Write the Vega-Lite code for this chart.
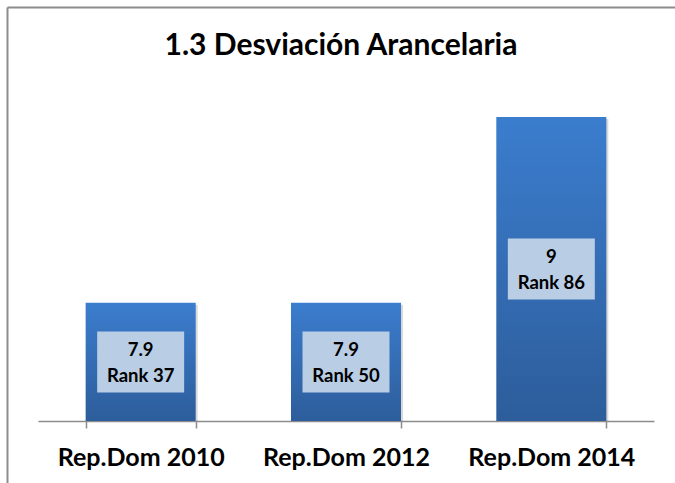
{
  "$schema": "https://vega.github.io/schema/vega-lite/v6.json",
  "width": 668,
  "height": 476,
  "autosize": {"type": "none"},
  "padding": {"left": 7, "top": 7, "right": 0, "bottom": 0},
  "background": "white",
  "config": {"view": {"stroke": null}, "font": "Lato"},
  "title": {"text": "1.3 Desviación Arancelaria", "fontSize": 30, "fontWeight": "bold", "font": "Lato", "color": "#000000", "anchor": "middle", "frame": "group", "offset": -57},
  "data": {"values": [
    {"label": "Rep.Dom 2010", "value": 7.9, "rank": "Rank 37"},
    {"label": "Rep.Dom 2012", "value": 7.9, "rank": "Rank 50"},
    {"label": "Rep.Dom 2014", "value": 9, "rank": "Rank 86"}
  ]},
  "layer": [
    {
      "mark": {"type": "point", "opacity": 0},
      "encoding": {
        "x": {"field": "label", "type": "nominal", "sort": null,
          "axis": {"orient": "top", "title": null, "ticks": false, "labels": false, "grid": false, "domainColor": "#8C8C8C", "domainWidth": 2}},
        "y": {"field": "value", "type": "quantitative", "scale": {"zero": false},
          "axis": {"orient": "left", "title": null, "ticks": false, "labels": false, "grid": false, "domainColor": "#8C8C8C", "domainWidth": 2}}
      }
    },
    {
      "encoding": {
        "x": {"field": "label", "type": "nominal", "sort": null,
          "scale": {"range": [31, 647], "paddingInner": 0.464, "paddingOuter": 0.232},
          "axis": {"title": null, "orient": "bottom", "offset": -62, "domainColor": "#8C8C8C", "domainWidth": 1.5, "tickColor": "#8C8C8C", "tickWidth": 1.5, "tickSize": 7, "tickBand": "extent", "labelFontSize": 25, "labelFontWeight": "bold", "labelColor": "#000000", "labelPadding": 17, "labelAngle": 0, "grid": false}},
        "y": {"field": "value", "type": "quantitative", "scale": {"domain": [6.8329, 9.6513], "zero": false, "nice": false}, "axis": null},
        "y2": {"datum": 7.2}
      },
      "layer": [
        {"mark": {"type": "bar", "fill": "#000000", "opacity": 0.15, "xOffset": 2, "yOffset": 2}},
        {"mark": {"type": "bar", "fill": {"gradient": "linear", "x1": 0, "y1": 0, "x2": 0, "y2": 1, "stops": [{"offset": 0, "color": "#3B7DCE"}, {"offset": 1, "color": "#2D5D9B"}]}}}
      ]
    },
    {
      "encoding": {
        "x": {"field": "label", "type": "nominal", "sort": null,
          "scale": {"range": [31, 647], "paddingInner": 0.464, "paddingOuter": 0.232}, "axis": null},
        "y": {"field": "value", "type": "quantitative", "scale": {"domain": [6.4657, 12.1027], "zero": false, "nice": false}, "axis": null}
      },
      "layer": [
        {"mark": {"type": "point", "shape": "M-1.426,-1H1.426V1H-1.426Z", "filled": true, "size": 3721, "fill": "#B9CDE5", "opacity": 1, "strokeWidth": 0}},
        {"mark": {"type": "text", "fontSize": 18.5, "fontWeight": "bold", "dy": -12, "color": "#000000"}, "encoding": {"text": {"field": "value", "type": "quantitative"}}},
        {"mark": {"type": "text", "fontSize": 18.5, "fontWeight": "bold", "dy": 14, "color": "#000000"}, "encoding": {"text": {"field": "rank", "type": "nominal"}}}
      ]
    }
  ],
  "resolve": {"scale": {"x": "independent", "y": "independent"}, "axis": {"x": "independent", "y": "independent"}}
}
